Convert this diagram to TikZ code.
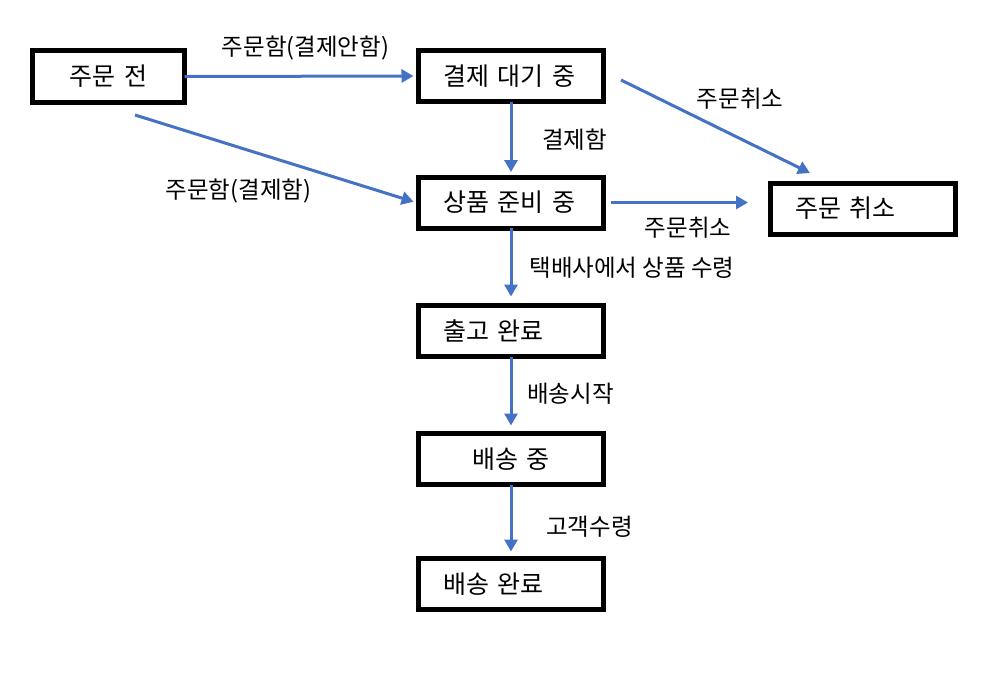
\documentclass[tikz,border=0pt]{standalone}
\usepackage{fontspec}
\setmainfont{Noto Sans CJK KR}
\usetikzlibrary{arrows.meta, positioning, calc}
\definecolor{flowblue}{HTML}{4472C4}

\begin{document}
\begin{tikzpicture}[x=1pt, y=-1pt,
  state/.style={draw=black, line width=5pt, minimum width=185pt, minimum height=51pt,
    inner xsep=25pt, text width=135pt, align=left, font=\fontsize{25}{29}\selectfont},
  flow/.style={-{Triangle[length=12pt,width=13pt]}, draw=flowblue, line width=3pt},
  lbl/.style={font=\fontsize{23.5}{27}\selectfont}]
\useasboundingbox (0,0) rectangle (1004,677);

% States
\node[state, minimum width=152pt, text width=102pt, align=center] (before) at (108.5,76.5) {주문 전};
\node[state] (waiting) at (511,76) {결제 대기 중};
\node[state] (preparing) at (511,202.5) {상품 준비 중};
\node[state] (cancel) at (862.5,208.5) {주문 취소};
\node[state] (shipped) at (511,331) {출고 완료};
\node[state, align=center] (delivering) at (511,459) {배송 중};
\node[state] (done) at (511,584) {배송 완료};

% Free ends
\coordinate (beforeout) at (135,115);
\coordinate (waitout) at (621,80);

% Transitions
\draw[flow, shorten <=-2.5pt, shorten >=2.5pt] (before.east) -- (waiting.west);
\draw[flow, shorten >=2.5pt] (beforeout) -- (preparing.west);
\draw[flow, shorten <=-2.5pt, shorten >=2.5pt] (waiting.south) -- (preparing.north);
\draw[flow] (waitout) -- ([xshift=-52.5pt, yshift=7.5pt]cancel.north);
\draw[flow, shorten <=4.5pt, shorten >=19.5pt] (preparing.east) -- (preparing.east -| cancel.west);
\draw[flow, shorten <=-2.5pt, shorten >=6.5pt] (preparing.south) -- (shipped.north);
\draw[flow, shorten <=-2.5pt, shorten >=5.5pt] (shipped.south) -- (delivering.north);
\draw[flow, shorten <=-2.5pt, shorten >=4.5pt] (delivering.south) -- (done.north);

% Labels
\node[lbl] (ordernopay) at (305.5,48) {주문함(결제안함)};
\node[lbl] (orderpay) at (238.5,191) {주문함(결제함)};
\node[lbl] (paid) at (574.5,140) {결제함};
\node[lbl] (cancelone) at (740,99) {주문취소};
\node[lbl] (canceltwo) at (688,228) {주문취소};
\node[lbl] (pickup) at (632,268) {택배사에서 상품 수령};
\node[lbl] (start) at (570.5,394) {배송시작};
\node[lbl] (received) at (589.5,527) {고객수령};
\end{tikzpicture}
\end{document}
